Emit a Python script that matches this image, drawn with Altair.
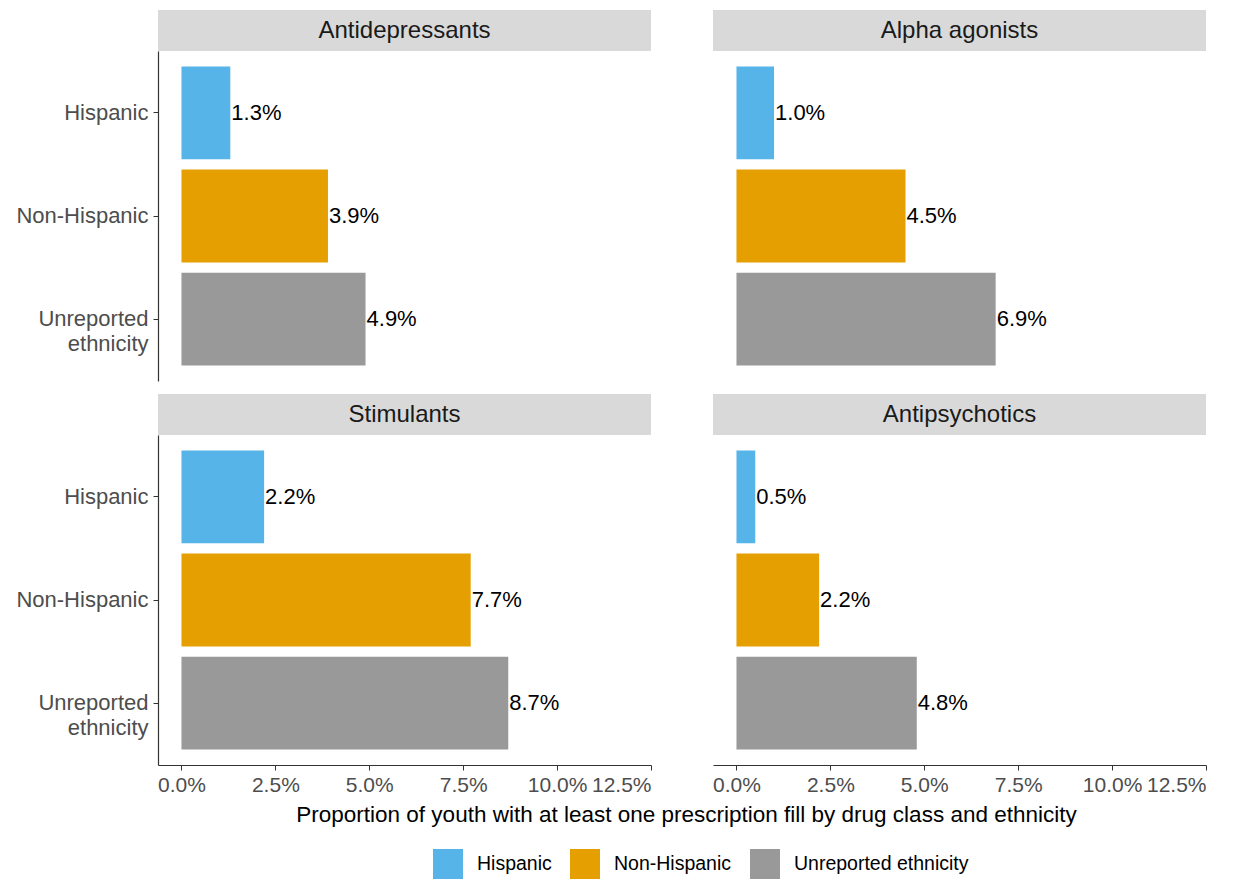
import altair as alt
import pandas as pd

# ---- data ----
drug_classes = ["Antidepressants", "Alpha agonists", "Stimulants", "Antipsychotics"]
ethnicities = ["Hispanic", "Non-Hispanic", "Unreported ethnicity"]
antidepressants = [1.3, 3.9, 4.9]
alpha_agonists = [1.0, 4.5, 6.9]
stimulants = [2.2, 7.7, 8.7]
antipsychotics = [0.5, 2.2, 4.8]
colors = ["#56B4E9", "#E69F00", "#999999"]
x_ticks = [0, 2.5, 5, 7.5, 10, 12.5]
x_title = "Proportion of youth with at least one prescription fill by drug class and ethnicity"

FONT = "Liberation Sans"
W = 493
H = 330
STRIP = 41
GAP_X = 62
GAP_Y = 54


def panel(name, values, show_x, show_y, show_legend, show_title):
    df = pd.DataFrame({"Ethnicity": ethnicities, "Value": values})
    df["Label"] = [f"{v:.1f}%" for v in values]

    if show_x:
        x_axis = alt.Axis(
            values=x_ticks,
            labelExpr="format(datum.value, '.1f') + '%'",
            labelFontSize=21,
            labelColor="#4D4D4D",
            labelPadding=4,
            tickSize=5,
            tickColor="#333333",
            domainColor="#333333",
            domainWidth=1.2,
            grid=False,
            titleFontSize=22.5,
            titleFontWeight="normal",
            titleColor="black",
            titleX=(2 * W + GAP_X) / 2 + 4,
            titleY=49,
            titleBaseline="middle",
        )
        xenc = alt.X(
            "Value:Q",
            scale=alt.Scale(domain=[-0.625, 12.5], nice=False, zero=False),
            axis=x_axis,
            title=x_title if show_title else None,
        )
    else:
        xenc = alt.X(
            "Value:Q",
            scale=alt.Scale(domain=[-0.625, 12.5], nice=False, zero=False),
            axis=None,
        )

    yscale = alt.Scale(domain=ethnicities, paddingInner=0.1, paddingOuter=0.15)
    if show_y:
        y_axis = alt.Axis(
            labelFontSize=22,
            labelColor="#4D4D4D",
            labelPadding=5,
            labelLineHeight=25,
            labelExpr="datum.label == 'Unreported ethnicity' ? ['Unreported', 'ethnicity'] : datum.label",
            tickSize=5,
            tickColor="#333333",
            domainColor="#333333",
            domainWidth=1.2,
            grid=False,
        )
        yenc = alt.Y("Ethnicity:N", sort=ethnicities, scale=yscale, axis=y_axis, title=None)
    else:
        yenc = alt.Y("Ethnicity:N", sort=ethnicities, scale=yscale, axis=None)

    if show_legend:
        legend = alt.Legend(
            orient="none",
            legendX=275,
            legendY=414,
            direction="horizontal",
            title=None,
            symbolType="square",
            symbolSize=900,
            symbolStrokeWidth=0,
            symbolOpacity=1,
            labelFontSize=19.5,
            labelColor="black",
            labelOffset=14,
            labelLimit=400,
            columnPadding=18,
        )
        cenc = alt.Color("Ethnicity:N", scale=alt.Scale(domain=ethnicities, range=colors), legend=legend)
    else:
        cenc = alt.Color("Ethnicity:N", scale=alt.Scale(domain=ethnicities, range=colors), legend=None)

    base = alt.Chart(df)
    bars = base.mark_bar(opacity=1).encode(x=xenc, x2=alt.datum(0), y=yenc, color=cenc)
    labels = base.mark_text(
        align="left", baseline="middle", dx=1, fontSize=22, color="black", font=FONT
    ).encode(x=alt.X("Value:Q"), y=alt.Y("Ethnicity:N", sort=ethnicities), text="Label:N")

    strip_df = pd.DataFrame({"Panel": [name]})
    strip_rect = alt.Chart(strip_df).mark_rect(color="#D9D9D9").encode(
        x=alt.value(0), x2=alt.value(W), y=alt.value(-STRIP), y2=alt.value(0)
    )
    strip_text = alt.Chart(strip_df).mark_text(
        fontSize=24, color="#1A1A1A", baseline="middle", align="center", font=FONT
    ).encode(x=alt.value(W / 2), y=alt.value(-STRIP / 2), text="Panel:N")

    return alt.layer(strip_rect, strip_text, bars, labels).properties(width=W, height=H)


p1 = panel(drug_classes[0], antidepressants, False, True, False, False)
p2 = panel(drug_classes[1], alpha_agonists, False, False, False, False)
p3 = panel(drug_classes[2], stimulants, True, True, True, True)
p4 = panel(drug_classes[3], antipsychotics, True, False, False, False)

chart = (
    alt.concat(p1, p2, p3, p4, columns=2, spacing={"row": GAP_Y, "column": GAP_X}, bounds="flush")
    .resolve_scale(color="independent")
    .properties(padding={"left": 7, "top": 2, "right": 0, "bottom": 0}, background="white")
    .configure(font=FONT)
    .configure_view(strokeWidth=0, stroke="transparent")
)

chart.save("out.html", embed_options={"renderer": "svg", "actions": False})
